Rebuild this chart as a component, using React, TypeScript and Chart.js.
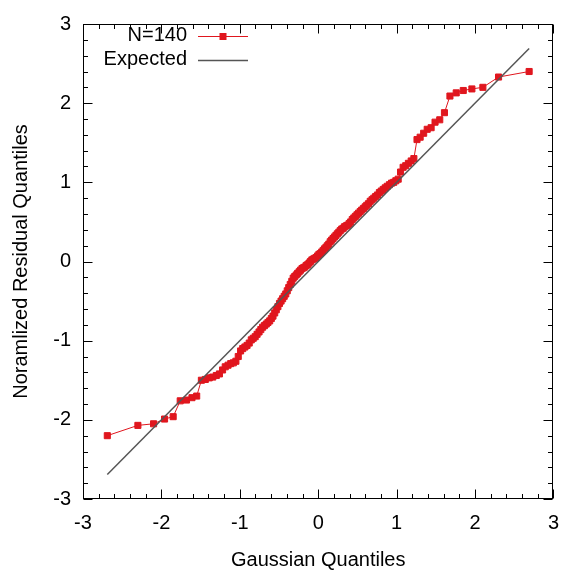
import React, { useEffect, useRef } from "react";
import { Chart, registerables } from "chart.js";

Chart.register(...registerables);

// Gaussian (theoretical) quantiles, x axis
const gaussQ: number[] = [
  -2.69, -2.30, -2.10, -1.96, -1.85, -1.76, -1.68, -1.61, -1.55, -1.49,
  -1.44, -1.39, -1.345, -1.30, -1.26, -1.22, -1.186, -1.15, -1.116, -1.083,
  -1.05, -1.02, -0.99, -0.963, -0.935, -0.908, -0.88, -0.854, -0.829, -0.804,
  -0.78, -0.755, -0.732, -0.709, -0.686, -0.663, -0.641, -0.619, -0.598, -0.577,
  -0.555, -0.535, -0.514, -0.494, -0.474, -0.454, -0.434, -0.414, -0.395, -0.376,
  -0.357, -0.337, -0.319, -0.30, -0.281, -0.263, -0.244, -0.226, -0.207, -0.189,
  -0.171, -0.153, -0.135, -0.117, -0.099, -0.081, -0.063, -0.045, -0.027, -0.009,
  0.009, 0.027, 0.045, 0.063, 0.081, 0.099, 0.117, 0.135, 0.153, 0.171,
  0.189, 0.207, 0.226, 0.244, 0.263, 0.281, 0.30, 0.319, 0.337, 0.357,
  0.376, 0.395, 0.414, 0.434, 0.454, 0.474, 0.494, 0.514, 0.535, 0.555,
  0.577, 0.598, 0.619, 0.641, 0.663, 0.686, 0.709, 0.732, 0.755, 0.78,
  0.804, 0.829, 0.854, 0.88, 0.908, 0.935, 0.963, 0.99, 1.02, 1.05,
  1.083, 1.116, 1.15, 1.186, 1.22, 1.26, 1.30, 1.345, 1.39, 1.44,
  1.49, 1.55, 1.61, 1.68, 1.76, 1.85, 1.96, 2.10, 2.30, 2.69,
];

// Normalized residual quantiles (sorted), y axis
const residQ: number[] = [
  -2.20, -2.07, -2.05, -1.99, -1.96, -1.76, -1.75, -1.72, -1.70, -1.50,
  -1.49, -1.47, -1.46, -1.44, -1.42, -1.37, -1.33, -1.31, -1.29, -1.28,
  -1.26, -1.20, -1.13, -1.10, -1.08, -1.06, -1.03, -0.99, -0.97, -0.95,
  -0.92, -0.89, -0.86, -0.83, -0.81, -0.79, -0.77, -0.75, -0.72, -0.69,
  -0.65, -0.61, -0.57, -0.53, -0.50, -0.47, -0.44, -0.41, -0.37, -0.33,
  -0.29, -0.25, -0.21, -0.19, -0.17, -0.15, -0.13, -0.11, -0.09, -0.08,
  -0.07, -0.05, -0.04, -0.02, 0.00, 0.02, 0.03, 0.04, 0.05, 0.07,
  0.09, 0.10, 0.12, 0.14, 0.16, 0.18, 0.20, 0.22, 0.25, 0.27,
  0.29, 0.31, 0.33, 0.35, 0.37, 0.39, 0.41, 0.42, 0.44, 0.45,
  0.46, 0.48, 0.50, 0.53, 0.55, 0.57, 0.59, 0.61, 0.63, 0.65,
  0.67, 0.69, 0.71, 0.73, 0.76, 0.78, 0.80, 0.82, 0.84, 0.87,
  0.89, 0.91, 0.93, 0.95, 0.97, 0.99, 1.00, 1.02, 1.04, 1.13,
  1.19, 1.21, 1.24, 1.27, 1.30, 1.54, 1.57, 1.62, 1.67, 1.69,
  1.76, 1.79, 1.88, 2.09, 2.13, 2.16, 2.18, 2.20, 2.33, 2.40,
];

const expectedX: number[] = [-2.69, 2.69];
const expectedY: number[] = [-2.69, 2.69];

const axisTicks: number[] = [-3, -2, -1, 0, 1, 2, 3];

const seriesLabel = "N=140";
const expectedLabel = "Expected";
const xTitle = "Gaussian Quantiles";
const yTitle = "Noramlized Residual Quantiles";

const RED = "rgb(224,22,30)";
const GRAY = "#555555";
const FONT = { family: "'Liberation Sans', Arial, Helvetica, sans-serif", size: 20 };

const framePlugin = {
  id: "gnuFrame",
  beforeDatasetsDraw(chart: any) {
    const { ctx, chartArea: a, scales } = chart;
    const xs = scales.x;
    const ys = scales.y;
    const L = Math.round(a.left) + 0.5;
    const R = Math.round(a.right) - 0.5;
    const T = Math.round(a.top) + 0.5;
    const B = Math.round(a.bottom) - 0.5;
    ctx.save();
    ctx.strokeStyle = "#000";
    ctx.lineWidth = 1;
    ctx.beginPath();
    for (let k = -15; k <= 15; k++) {
      const v = k / 5;
      const len = k % 5 === 0 ? 9 : 4.5;
      const px = Math.round(xs.getPixelForValue(v)) + 0.5;
      ctx.moveTo(px, B);
      ctx.lineTo(px, B - len);
      ctx.moveTo(px, T);
      ctx.lineTo(px, T + len);
      const py = Math.round(ys.getPixelForValue(v)) + 0.5;
      ctx.moveTo(L, py);
      ctx.lineTo(L + len, py);
      ctx.moveTo(R, py);
      ctx.lineTo(R - len, py);
    }
    ctx.stroke();
    ctx.strokeRect(L, T, R - L, B - T);
    ctx.restore();
  },
};

const legendPlugin = {
  id: "gnuLegend",
  afterDraw(chart: any) {
    const { ctx } = chart;
    ctx.save();
    ctx.font = `${FONT.size}px ${FONT.family}`;
    ctx.fillStyle = "#000";
    ctx.textAlign = "right";
    ctx.textBaseline = "middle";
    const textX = 187;
    const x0 = 198;
    const x1 = 248;
    const y1 = 36;
    const y2 = 60;
    ctx.fillText(seriesLabel, textX, y1 - 1);
    ctx.fillText(expectedLabel, textX, y2 - 1);
    ctx.strokeStyle = RED;
    ctx.lineWidth = 1;
    ctx.beginPath();
    ctx.moveTo(x0, y1 + 0.5);
    ctx.lineTo(x1, y1 + 0.5);
    ctx.stroke();
    ctx.fillStyle = RED;
    ctx.fillRect((x0 + x1) / 2 - 3.5, y1 - 3, 7, 7);
    ctx.strokeStyle = GRAY;
    ctx.lineWidth = 1.5;
    ctx.beginPath();
    ctx.moveTo(x0, y2 + 0.5);
    ctx.lineTo(x1, y2 + 0.5);
    ctx.stroke();
    ctx.restore();
  },
};

export default function App() {
  const ref = useRef<HTMLCanvasElement | null>(null);

  useEffect(() => {
    if (!ref.current) return;
    const points = gaussQ.map((x, i) => ({ x, y: residQ[i] }));
    const expected = expectedX.map((x, i) => ({ x, y: expectedY[i] }));
    const chart = new Chart(ref.current, {
      type: "scatter",
      data: {
        datasets: [
          {
            label: expectedLabel,
            data: expected,
            showLine: true,
            borderColor: GRAY,
            backgroundColor: GRAY,
            borderWidth: 1.5,
            pointRadius: 0,
            order: 0,
          } as any,
          {
            label: seriesLabel,
            data: points,
            showLine: true,
            borderColor: RED,
            backgroundColor: RED,
            borderWidth: 1,
            pointStyle: "rect",
            pointRadius: 4.3,
            pointBorderWidth: 1,
            pointBorderColor: RED,
            pointBackgroundColor: RED,
            order: 1,
          } as any,
        ],
      },
      options: {
        animation: false,
        responsive: false,
        events: [],
        layout: { padding: { top: 21, right: 17, left: 0, bottom: 0 } },
        plugins: { legend: { display: false }, tooltip: { enabled: false } },
        scales: {
          x: {
            type: "linear",
            min: -3,
            max: 3,
            afterBuildTicks: (s: any) => {
              s.ticks = axisTicks.map((v) => ({ value: v }));
            },
            ticks: { padding: 12, color: "#000", font: FONT },
            grid: { display: false, drawTicks: false },
            border: { display: false },
            title: {
              display: true,
              text: xTitle,
              color: "#000",
              font: FONT,
              padding: { top: 0, bottom: 0 },
            },
            afterFit: (s: any) => {
              s.height = 73;
            },
          },
          y: {
            type: "linear",
            min: -3,
            max: 3,
            afterBuildTicks: (s: any) => {
              s.ticks = axisTicks.map((v) => ({ value: v }));
            },
            ticks: { padding: 12, color: "#000", font: FONT },
            grid: { display: false, drawTicks: false },
            border: { display: false },
            title: {
              display: true,
              text: yTitle,
              color: "#000",
              font: FONT,
              padding: { top: 9, bottom: 0 },
            },
            afterFit: (s: any) => {
              s.width = 83;
            },
          },
        },
      } as any,
      plugins: [framePlugin, legendPlugin],
    });
    return () => chart.destroy();
  }, []);

  return (
    <canvas
      ref={ref}
      width={571}
      height={572}
      style={{ position: "absolute", left: 0, top: 0, width: 571, height: 572 }}
    />
  );
}
